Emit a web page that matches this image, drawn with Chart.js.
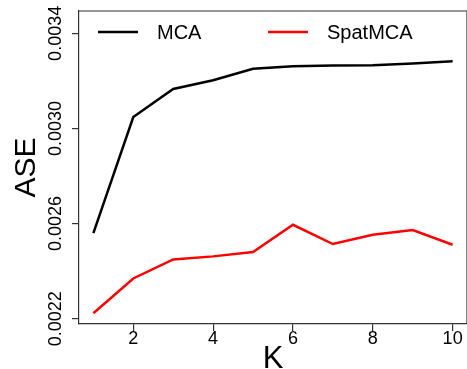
<!DOCTYPE html>
<html>
<head>
<meta charset="utf-8">
<script src="https://cdn.jsdelivr.net/npm/chart.js@4.4.1/dist/chart.umd.min.js"></script>
<style>
  html, body { margin: 0; padding: 0; background: #fff; }
  #wrap { width: 467px; height: 369px; }
</style>
</head>
<body>
<div id="wrap"><canvas id="chart" width="467" height="369"></canvas></div>
<script>
const kValues = [1, 2, 3, 4, 5, 6, 7, 8, 9, 10];
const mcaValues = [0.002560, 0.003048, 0.003166, 0.003203, 0.003251, 0.003262, 0.003265, 0.003266, 0.003273, 0.003283];
const spatValues = [0.002223, 0.002369, 0.002449, 0.002462, 0.002480, 0.002595, 0.002514, 0.002553, 0.002573, 0.002511];
const xTicks = [2, 4, 6, 8, 10];
const yTicks = [0.0022, 0.0024, 0.0026, 0.0028, 0.0030, 0.0032, 0.0034];
const yTickLabels = ['0.0022', '', '0.0026', '', '0.0030', '', '0.0034'];

Chart.defaults.font.family = "'Liberation Sans', Arial, sans-serif";
Chart.defaults.color = '#000';

const axisColor = '#333';

function toPoints(values) {
  return kValues.map((k, i) => ({ x: k, y: values[i] }));
}

// top/right sides of the plot box plus the in-plot legend
const boxAndLegend = {
  id: 'boxAndLegend',
  afterDraw(chart) {
    const { ctx, chartArea } = chart;
    ctx.save();
    ctx.strokeStyle = axisColor;
    ctx.lineWidth = 1.2;
    ctx.beginPath();
    ctx.moveTo(chartArea.left, chartArea.top);
    ctx.lineTo(chartArea.right, chartArea.top);
    ctx.lineTo(chartArea.right, chartArea.bottom);
    ctx.stroke();

    const starts = [98, 268];
    const y = 32;
    ctx.font = "20px 'Liberation Sans', Arial, sans-serif";
    ctx.textBaseline = 'middle';
    ctx.textAlign = 'left';
    chart.data.datasets.forEach((ds, i) => {
      const x0 = starts[i];
      ctx.strokeStyle = ds.borderColor;
      ctx.lineWidth = 2.5;
      ctx.beginPath();
      ctx.moveTo(x0, y);
      ctx.lineTo(x0 + 40, y);
      ctx.stroke();
      ctx.fillStyle = '#000';
      ctx.fillText(ds.label, x0 + 59, y + 1);
    });
    ctx.restore();
  }
};

new Chart(document.getElementById('chart').getContext('2d'), {
  type: 'line',
  data: {
    datasets: [
      { label: 'MCA', data: toPoints(mcaValues), borderColor: '#000', borderWidth: 2.5, pointRadius: 0, tension: 0, fill: false },
      { label: 'SpatMCA', data: toPoints(spatValues), borderColor: '#ff0000', borderWidth: 2.5, pointRadius: 0, tension: 0, fill: false }
    ]
  },
  options: {
    responsive: false,
    animation: false,
    devicePixelRatio: 1,
    layout: { padding: { top: 11, right: 0, left: 0, bottom: 0 } },
    plugins: {
      legend: { display: false },
      tooltip: { enabled: false }
    },
    scales: {
      x: {
        type: 'linear',
        min: 0.64,
        max: 10.36,
        afterBuildTicks: (scale) => { scale.ticks = xTicks.map(v => ({ value: v })); },
        afterFit: (scale) => { scale.height = 45; },
        ticks: { font: { size: 18 }, color: '#000', padding: -2.5, maxRotation: 0 },
        grid: { drawOnChartArea: false, drawTicks: true, tickLength: 7, color: axisColor, lineWidth: 1.2 },
        border: { display: true, color: axisColor, width: 1.2 },
        title: { display: true, text: 'K', font: { size: 31 }, color: '#000', padding: { top: 0, bottom: -9 } }
      },
      y: {
        type: 'linear',
        min: 0.0021776,
        max: 0.003494,
        afterBuildTicks: (scale) => { scale.ticks = yTicks.map(v => ({ value: v })); },
        afterFit: (scale) => { scale.width = 79; },
        ticks: {
          font: { size: 18 },
          color: '#000',
          minRotation: 90,
          maxRotation: 90,
          crossAlign: 'center',
          padding: -11.5,
          callback: (value, index) => yTickLabels[index]
        },
        grid: { drawOnChartArea: false, drawTicks: true, tickLength: 7, color: axisColor, lineWidth: 1.2 },
        border: { display: true, color: axisColor, width: 1.2 },
        title: { display: true, text: 'ASE', font: { size: 30 }, color: '#000', padding: { top: 9, bottom: 0 } }
      }
    }
  },
  plugins: [boxAndLegend]
});
</script>
</body>
</html>
